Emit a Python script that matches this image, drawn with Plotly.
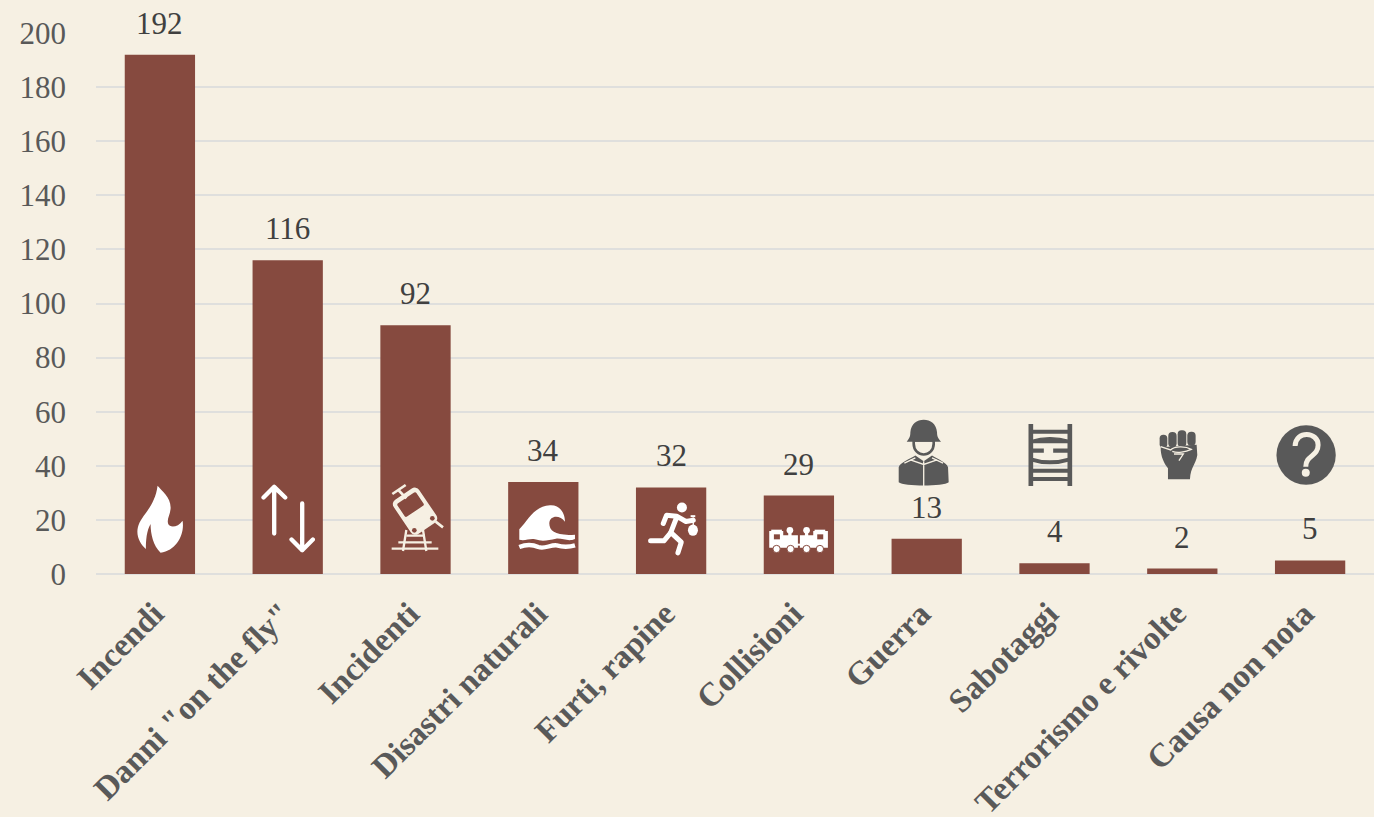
import base64
import plotly.graph_objects as go

categories = ["Incendi", 'Danni "on the fly"', "Incidenti", "Disastri naturali", "Furti, rapine",
              "Collisioni", "Guerra", "Sabotaggi", "Terrorismo e rivolte", "Causa non nota"]
values = [192, 116, 92, 34, 32, 29, 13, 4, 2, 5]
y_ticks = list(range(0, 201, 20))

BG = "#F6F0E3"
BAR = "#864A3F"
GRID = "#DFDFDD"
AXTXT = "#595959"
LABEL = "#404040"
SERIF = "Liberation Serif"
W, H = 1374, 817
ML, MR, MT, MB = 96, 0, 32, 243
PW, PH = W - ML - MR, H - MT - MB
DK = "#595959"
WH = "#FFFFFF"
CR = "#F6F0E3"

ICONS = [
    # (category index, viewBox in 3x units, inner svg)
    (0, (45, 40, 150, 210), f'<path fill="{WH}" d="M113 45C125 60 155 80 152 115C150 135 140 145 145 160C150 172 175 170 188 150C195 190 170 240 122 246C100 225 92 190 92 160C80 180 78 210 78 235C60 220 48 195 54 170C62 135 105 110 113 45Z"/>'),
    (1, (420, 40, 165, 210), f'<g fill="none" stroke="{WH}" stroke-width="13" stroke-linecap="round" stroke-linejoin="round"><path d="M462 50V190M430 82L462 50L495 82"/><path d="M546 100V240M514 208L546 240L578 208"/></g>'),
    (2, (810, 38, 165, 212),
     f'<g stroke="{CR}" fill="none"><path d="M862 180L852 243M912 180L922 243" stroke-width="7"/><path d="M862 197H918M838 217H938M818 236H958" stroke-width="7"/></g>'
     f'<g transform="translate(887,122) rotate(-34)"><rect x="-46" y="-60" width="92" height="124" rx="16" fill="{CR}"/><rect x="-34" y="-46" width="68" height="48" rx="5" fill="{BAR}"/></g>'
     f'<circle cx="940" cy="145" r="7" fill="{BAR}"/><circle cx="886" cy="181" r="7" fill="{BAR}"/>'
     f'<g stroke="{CR}" fill="none" stroke-width="8"><path d="M820 72L860 45M838 60L862 85M950 155L972 172"/></g>'),
    (3, (52, 100, 180, 142),
     f'<path fill="{WH}" d="M58 178C85 150 100 110 150 106C180 104 195 130 195 155C180 135 150 135 148 160C148 185 170 198 225 194V207C205 216 188 204 168 206C145 210 130 216 105 208C90 204 75 214 58 209Z"/>'
     f'<path fill="none" stroke="{WH}" stroke-width="13" d="M58 231C80 222 95 222 115 231C135 238 150 224 170 226C190 232 205 232 225 226"/>'),
    (4, (440, 90, 155, 170),
     f'<circle cx="544" cy="112" r="15" fill="{WH}"/>'
     f'<g fill="none" stroke="{WH}" stroke-width="15" stroke-linecap="round" stroke-linejoin="round"><path d="M528 142L510 188M488 160L498 135L528 138L556 154L578 150"/><path d="M510 188L490 212H450M512 188L542 216L532 248" /></g>'
     f'<ellipse cx="577" cy="180" rx="15" ry="17" fill="{WH}"/><path d="M578 165V142" stroke="{WH}" stroke-width="4"/><rect x="570" y="135" width="14" height="6" fill="{WH}"/>'),
    (5, (800, 165, 190, 85),
     f'<g fill="{WH}"><circle cx="868" cy="180" r="10"/><circle cx="918" cy="180" r="10"/><rect x="863" y="185" width="10" height="12"/><rect x="913" y="185" width="10" height="12"/>'
     f'<path d="M806 182H848V195H892V232H806Z"/><path d="M898 195H938V182H982V232H898Z"/><rect x="885" y="220" width="18" height="6"/>'
     f'<rect x="812" y="178" width="32" height="6"/><rect x="942" y="178" width="32" height="6"/></g>'
     f'<rect x="820" y="192" width="18" height="15" fill="{BAR}"/><rect x="950" y="192" width="18" height="15" fill="{BAR}"/>'
     + "".join(f'<circle cx="{c}" cy="236" r="11" fill="{WH}" stroke="{BAR}" stroke-width="3"/>' for c in (828, 870, 918, 958))),
    (6, (50, 25, 160, 205),
     f'<path fill="{DK}" d="M55 170C60 155 90 145 105 135L130 152L155 135C170 145 198 155 203 170L205 215C190 228 70 228 55 215Z"/>'
     f'<path fill="none" stroke="{CR}" stroke-width="4" d="M130 152V230M72 158L105 142M188 158L155 142M90 148L130 162L170 148"/>'
     f'<path fill="{CR}" stroke="{DK}" stroke-width="8" d="M100 90V100C100 120 115 132 130 132C145 132 160 120 160 100V90Z"/>'
     f'<path fill="{DK}" d="M79 94C85 85 90 80 90 65C92 40 110 28 130 28C150 28 168 40 170 65C170 80 175 85 182 94Z"/>'),
    (7, (442, 38, 140, 194),
     f'<g stroke="{DK}" fill="none"><path d="M453 42V228M570 42V228" stroke-width="14"/>'
     f'<path d="M453 65H570" stroke-width="12"/><path d="M453 92C490 80 530 80 570 92V98H453Z" fill="{DK}" stroke-width="4"/>'
     f'<path d="M453 122H492M520 122H570" stroke-width="13"/><path d="M453 148C490 160 530 160 570 148" stroke-width="12"/>'
     f'<path d="M453 182H570M453 207H570" stroke-width="12"/></g>'),
    (8, (832, 58, 122, 154),
     f'<g fill="{DK}"><rect x="837" y="74" width="23" height="40" rx="11"/><rect x="863" y="66" width="25" height="46" rx="12"/><rect x="891" y="61" width="26" height="50" rx="12"/><rect x="920" y="65" width="25" height="42" rx="12"/>'
     f'<path d="M840 112L948 104L950 135C945 165 930 170 928 208H862V175C850 160 840 140 840 112Z"/></g>'
     f'<path fill="none" stroke="{CR}" stroke-width="4" d="M840 110L870 120C880 108 915 108 932 118C915 126 890 130 875 124M880 132H908L895 152"/>'),
    (9, (1183, 44, 182, 182),
     f'<circle cx="1274" cy="135" r="89" fill="{DK}"/>'
     f'<path fill="none" stroke="{CR}" stroke-width="15" d="M1241 108C1243 60 1310 65 1310 105C1310 140 1273 135 1273 170"/><circle cx="1273" cy="188" r="12" fill="{CR}"/>'),
]

# Centre of each icon as a pixel row, and its nudge from the category centre
ICON_ROWS = [519, 518.5, 518, 527, 528.5, 539.5, 453, 455, 455, 455]
ICON_DX = [0, 0, 1, 4, 2, 0, -3, -4, -4, -4]

images = []
for (idx, vb, inner), row, dx in zip(ICONS, ICON_ROWS, ICON_DX):
    x0, y0, w3, h3 = vb
    svg = (f'<svg xmlns="http://www.w3.org/2000/svg" width="{w3}" height="{h3}" '
           f'viewBox="{x0} {y0} {w3} {h3}">{inner}</svg>')
    uri = "data:image/svg+xml;base64," + base64.b64encode(svg.encode()).decode()
    images.append(dict(source=uri, xref="paper", yref="paper",
                       x=(idx + 0.5) / len(categories) + dx / PW, y=(H - MB - row) / PH,
                       sizex=(w3 / 3) / PW, sizey=(h3 / 3) / PH,
                       xanchor="center", yanchor="middle", sizing="stretch", layer="above"))

fig = go.Figure(go.Bar(x=categories, y=values, marker=dict(color=BAR, line=dict(width=0)), hoverinfo="skip"))

for c, v in zip(categories, values):
    fig.add_annotation(x=c, y=v, text=str(v), showarrow=False, yanchor="bottom", yshift=12,
                       font=dict(family=SERIF, size=31, color=LABEL))

fig.update_layout(
    width=W, height=H, margin=dict(l=ML, r=MR, t=MT, b=MB, pad=0),
    paper_bgcolor=BG, plot_bgcolor=BG, bargap=0.45, showlegend=False, images=images,
)
fig.update_xaxes(type="category", tickangle=-45, showgrid=False, showline=False, ticks="",
                 zeroline=False, automargin=False,
                 tickvals=categories, ticktext=[c + "\u00a0" for c in categories],
                 tickfont=dict(family=SERIF, size=33, color=AXTXT, weight="bold"),
                 ticklabelstandoff=7)
fig.update_yaxes(range=[0, 200.37], tickvals=y_ticks, showgrid=True, gridcolor=GRID, gridwidth=2,
                 zeroline=True, zerolinecolor=GRID, zerolinewidth=2, showline=False, ticks="",
                 automargin=False,
                 tickfont=dict(family=SERIF, size=31, color=AXTXT), ticklabelstandoff=29)

fig.write_html("out.html", config={"displayModeBar": False},
               post_script="document.body.style.margin='0';")
